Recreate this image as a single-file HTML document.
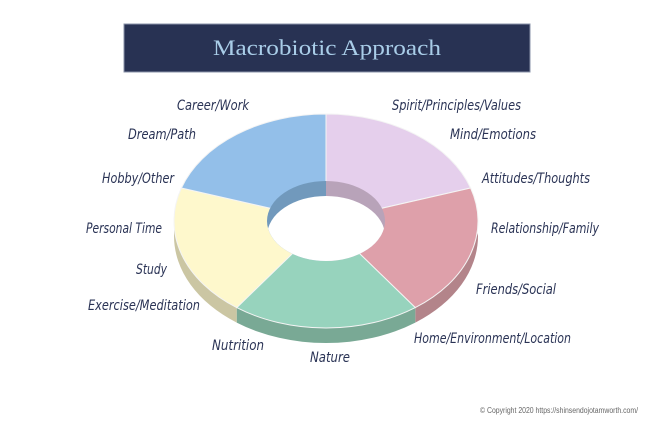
<!DOCTYPE html>
<html><head><meta charset="utf-8"><style>
html,body{margin:0;padding:0;background:#fff;width:655px;height:426px;overflow:hidden}
.l{font-family:"DejaVu Sans","Liberation Sans",sans-serif;font-style:italic;font-size:14px;fill:#2a3355}
</style></head><body>
<svg width="655" height="426" viewBox="0 0 655 426" xmlns="http://www.w3.org/2000/svg">
<rect x="124" y="24" width="406" height="48" fill="#283253" stroke="#8a93a8" stroke-width="1"/>
<text x="327" y="55" text-anchor="middle" font-family="Liberation Serif,serif" font-size="22" fill="#a9cde8" textLength="228" lengthAdjust="spacingAndGlyphs">Macrobiotic Approach</text>
<path d="M470.6,188 A152,107 0 0 1 415.3,307.6 L415.3,322.6 A152,107 0 0 0 478,236 Z" fill="#b3848a"/>
<path d="M415.3,307.6 A152,107 0 0 1 236.7,307.6 L236.7,322.6 A152,107 0 0 0 415.3,322.6 Z" fill="#79a995"/>
<path d="M236.7,307.6 A152,107 0 0 1 174,221 L174,236 A152,107 0 0 0 236.7,322.6 Z" fill="#cbc6a3"/>
<g stroke="#f4f4f4" stroke-width="1">
<path d="M326,221 L326,114 A152,107 0 0 1 470.6,188 Z" fill="#e5cfec"/>
<path d="M326,221 L470.6,188 A152,107 0 0 1 415.3,307.6 Z" fill="#dea0aa"/>
<path d="M326,221 L415.3,307.6 A152,107 0 0 1 236.7,307.6 Z" fill="#97d3bd"/>
<path d="M326,221 L236.7,307.6 A152,107 0 0 1 181.4,188 Z" fill="#fef8cc"/>
<path d="M326,221 L181.4,188 A152,107 0 0 1 326,114 Z" fill="#93bfe9"/>
</g>
<defs><clipPath id="h"><ellipse cx="326" cy="221" rx="59" ry="40"/></clipPath></defs>
<g clip-path="url(#h)">
<rect x="260" y="170" width="66" height="100" fill="#7199bc"/>
<rect x="326" y="170" width="66" height="100" fill="#b8a3b9"/>
<ellipse cx="326" cy="236" rx="59" ry="40" fill="#fff"/>
</g>
<g lengthAdjust="spacingAndGlyphs">
<text class="l" x="177" y="110" textLength="72" lengthAdjust="spacingAndGlyphs">Career/Work</text>
<text class="l" x="128" y="139" textLength="68" lengthAdjust="spacingAndGlyphs">Dream/Path</text>
<text class="l" x="102" y="183" textLength="72" lengthAdjust="spacingAndGlyphs">Hobby/Other</text>
<text class="l" x="86" y="233" textLength="76" lengthAdjust="spacingAndGlyphs">Personal Time</text>
<text class="l" x="136" y="274" textLength="31" lengthAdjust="spacingAndGlyphs">Study</text>
<text class="l" x="88" y="310" textLength="112" lengthAdjust="spacingAndGlyphs">Exercise/Meditation</text>
<text class="l" x="212" y="350" textLength="52" lengthAdjust="spacingAndGlyphs">Nutrition</text>
<text class="l" x="310" y="362" textLength="40" lengthAdjust="spacingAndGlyphs">Nature</text>
<text class="l" x="392" y="110" textLength="129" lengthAdjust="spacingAndGlyphs">Spirit/Principles/Values</text>
<text class="l" x="450" y="139" textLength="86" lengthAdjust="spacingAndGlyphs">Mind/Emotions</text>
<text class="l" x="482" y="183" textLength="108" lengthAdjust="spacingAndGlyphs">Attitudes/Thoughts</text>
<text class="l" x="491" y="233" textLength="108" lengthAdjust="spacingAndGlyphs">Relationship/Family</text>
<text class="l" x="476" y="294" textLength="80" lengthAdjust="spacingAndGlyphs">Friends/Social</text>
<text class="l" x="414" y="343" textLength="157" lengthAdjust="spacingAndGlyphs">Home/Environment/Location</text>
</g>
<text x="480" y="413" font-family="Liberation Sans,sans-serif" font-size="8" fill="#666" textLength="158" lengthAdjust="spacingAndGlyphs">© Copyright 2020 https://shinsendojotamworth.com/</text>
</svg>
</body></html>
